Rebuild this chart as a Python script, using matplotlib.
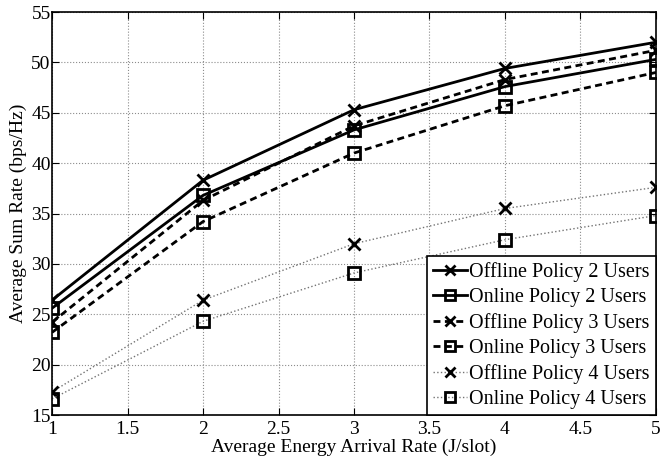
import numpy as np
import matplotlib.pyplot as plt
from matplotlib.ticker import FormatStrFormatter

plt.rcParams['font.family'] = ['Liberation Serif', 'DejaVu Serif']

rate = [1, 2, 3, 4, 5]
offline_2 = [26.4, 38.3, 45.3, 49.4, 52.0]
online_2 = [25.6, 36.8, 43.3, 47.6, 50.3]
offline_3 = [24.2, 36.3, 43.7, 48.3, 51.2]
online_3 = [23.2, 34.2, 41.0, 45.7, 49.0]
offline_4 = [17.3, 26.4, 32.0, 35.5, 37.6]
online_4 = [16.6, 24.3, 29.1, 32.4, 34.8]

fig = plt.figure(figsize=(6.61, 4.66), dpi=100)
ax = fig.add_axes([0.0787, 0.1094, 0.9137, 0.8648])

dash = (2.5, 1.6)
ax.plot(rate, offline_2, '-', color='k', lw=2, marker='x', ms=8, mew=2, label='Offline Policy 2 Users')
ax.plot(rate, online_2, '-', color='k', lw=2, marker='s', ms=8.5, mew=2, mfc='none', label='Online Policy 2 Users')
ax.plot(rate, offline_3, '--', dashes=dash, color='k', lw=2, marker='x', ms=8, mew=2, label='Offline Policy 3 Users')
ax.plot(rate, online_3, '--', dashes=dash, color='k', lw=2, marker='s', ms=8.5, mew=2, mfc='none', label='Online Policy 3 Users')
ax.plot(rate, offline_4, ':', color='0.45', lw=1.0, marker='x', ms=8, mew=2, mec='k', label='Offline Policy 4 Users')
ax.plot(rate, online_4, ':', color='0.45', lw=1.0, marker='s', ms=8.5, mew=2, mec='k', mfc='none', label='Online Policy 4 Users')

ax.set_xlim(1, 5)
ax.set_ylim(15, 55)
ax.set_xticks(np.arange(1, 5.01, 0.5))
ax.xaxis.set_major_formatter(FormatStrFormatter('%g'))
ax.set_yticks(range(15, 56, 5))
ax.grid(True, linestyle=':', color='0.55', lw=0.8)
ax.tick_params(direction='in', top=True, right=True, labelsize=14, length=5)
ax.tick_params(axis='y', pad=1)
ax.tick_params(axis='x', pad=4.5)
for s in ax.spines.values():
    s.set_linewidth(1.2)

ax.set_xlabel('Average Energy Arrival Rate (J/slot)', fontsize=14, labelpad=0)
ax.set_ylabel('Average Sum Rate (bps/Hz)', fontsize=14, labelpad=3)

leg = ax.legend(loc='lower right', fontsize=14.5, handlelength=1.7, handletextpad=0.1,
                borderaxespad=0, borderpad=0.3, labelspacing=0.3, fancybox=False,
                framealpha=1, markerscale=0.85)
leg.get_frame().set_edgecolor('k')
leg.get_frame().set_linewidth(1.2)

fig.savefig('out.png', dpi=100)
